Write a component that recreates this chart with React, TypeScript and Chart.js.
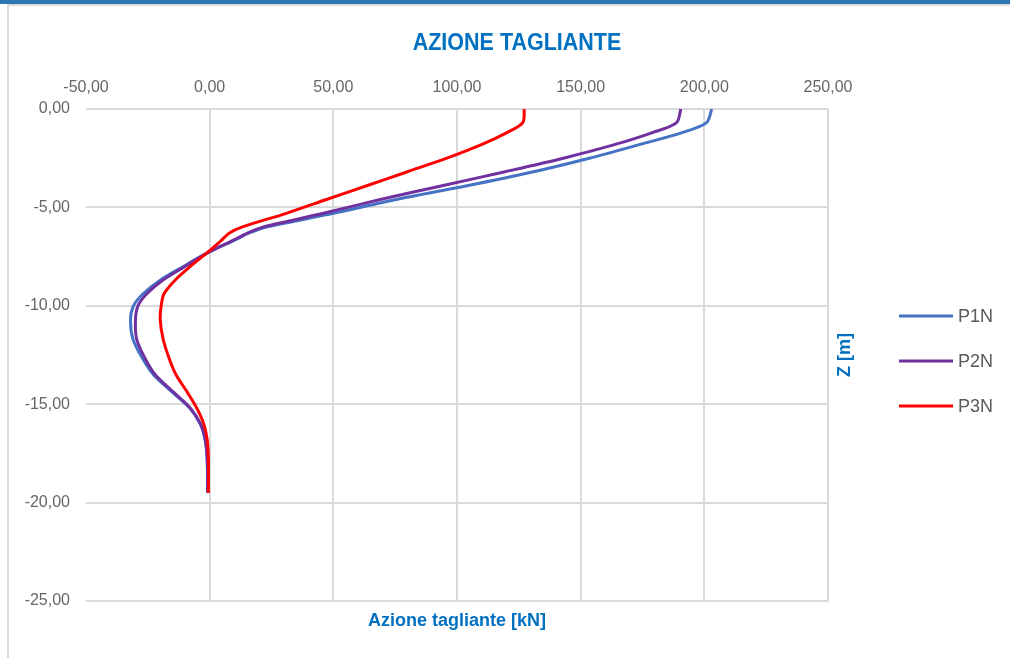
import React, { useEffect, useRef } from "react";
import { Chart, registerables } from "chart.js";

Chart.register(...registerables);

// Depth (m) shared by the three series
const Z = [0, -0.69, -1.2, -1.8, -2.5, -3.2, -3.9, -4.6, -5.3, -6.0, -6.3, -6.7, -7.25, -8.0, -8.7, -9.4, -10.0, -10.7, -11.7, -12.7, -13.5, -14.4, -15.2, -16.0, -16.8, -17.8, -19.5];
// Shear action (kN)
const P1N = [203, 200.9, 191, 174, 153.5, 130.5, 104, 75.5, 50, 23, 16, 9.5, 0, -10.6, -20, -27, -30.8, -32, -31, -27, -22.7, -15, -8, -3.8, -1.8, -1, -0.8];
const P2N = [190.5, 188.8, 179, 164, 143, 119, 94, 69, 46, 21.5, 15.5, 9, 0, -10, -19, -25.5, -29, -30, -29.5, -26, -22, -14.5, -7.8, -3.7, -1.8, -1, -0.8];
const P3N = [127.2, 126.6, 120.2, 110.1, 95.9, 79.7, 63.5, 47.2, 31, 13, 8, 4.5, -0.5, -7.8, -14, -18.5, -19.6, -20, -18.8, -16.3, -13.6, -9, -5.2, -2.4, -1, -0.5, -0.5];

const SERIES_NAMES = ["P1N", "P2N", "P3N"];
const SERIES_COLORS = ["#4472c4", "#7030a0", "#ff0000"];

const TITLE = "AZIONE TAGLIANTE";
const X_TITLE = "Azione tagliante [kN]";
const Y_TITLE = "Z [m]";

const X_MIN = -50;
const X_MAX = 250;
const X_STEP = 50;
const Y_MIN = -25;
const Y_MAX = 0;
const Y_STEP = 5;

const fmt = (v: number) => Number(v).toFixed(2).replace(".", ",");

const BLUE = "#0070c0";
const GRAY_TEXT = "#666666";
const GRID = "#d9d9d9";

const decoPlugin = {
  id: "deco",
  beforeDraw(chart: any) {
    const ctx = chart.ctx as CanvasRenderingContext2D;
    const w = chart.width;
    const h = chart.height;
    ctx.save();
    ctx.fillStyle = "#ffffff";
    ctx.fillRect(0, 0, w, h);
    ctx.fillStyle = "#2e75b6";
    ctx.fillRect(0, 0, w, 4);
    ctx.fillStyle = GRID;
    ctx.fillRect(7, 4, w - 7, 2);
    ctx.fillRect(7, 4, 2, h - 4);
    ctx.restore();
  },
  afterDraw(chart: any) {
    const ctx = chart.ctx as CanvasRenderingContext2D;
    const area = chart.chartArea;
    ctx.save();
    // Title
    ctx.fillStyle = BLUE;
    ctx.font = "bold 23px 'Liberation Sans', Arial, sans-serif";
    ctx.textAlign = "center";
    ctx.textBaseline = "alphabetic";
    ctx.save();
    ctx.translate(517, 49.5);
    ctx.scale(0.935, 1);
    ctx.fillText(TITLE, 0, 0);
    ctx.restore();

    // X axis title (below plot)
    ctx.font = "bold 18px 'Liberation Sans', Arial, sans-serif";
    ctx.fillText(X_TITLE, (area.left + area.right) / 2, 626);

    // Y axis title (right of plot, rotated)
    ctx.save();
    ctx.translate(845, (area.top + area.bottom) / 2);
    ctx.rotate(-Math.PI / 2);
    ctx.textBaseline = "middle";
    ctx.fillText(Y_TITLE, 0, 0);
    ctx.restore();

    // Legend
    const ys = [316, 361, 406];
    chart.data.datasets.forEach((ds: any, i: number) => {
      ctx.strokeStyle = ds.borderColor;
      ctx.lineWidth = 3;
      ctx.beginPath();
      ctx.moveTo(899, ys[i]);
      ctx.lineTo(953, ys[i]);
      ctx.stroke();
      ctx.fillStyle = "#595959";
      ctx.font = "18px 'Liberation Sans', Arial, sans-serif";
      ctx.textAlign = "left";
      ctx.textBaseline = "middle";
      ctx.fillText(ds.label, 958, ys[i] + 1);
    });
    ctx.restore();
  },
};

export default function App() {
  const ref = useRef<HTMLCanvasElement | null>(null);

  useEffect(() => {
    document.body.style.margin = "0";
    document.body.style.overflow = "hidden";
    const canvas = ref.current;
    if (!canvas) return;
    const seriesValues = [P1N, P2N, P3N];
    const datasets = seriesValues.map((vals, i) => ({
      label: SERIES_NAMES[i],
      data: vals.map((v, j) => ({ x: v, y: Z[j] })),
      borderColor: SERIES_COLORS[i],
      backgroundColor: SERIES_COLORS[i],
      borderWidth: 3,
      pointRadius: 0,
      showLine: true,
      fill: false,
      tension: 0.3,
      order: 2 - i,
    }));

    const tickFont = { family: "'Liberation Sans', Arial, sans-serif", size: 16 };

    const chart = new Chart(canvas, {
      type: "scatter",
      data: { datasets },
      plugins: [decoPlugin],
      options: {
        responsive: false,
        animation: false,
        devicePixelRatio: 1,
        layout: { padding: { left: 0, right: 182, top: 0, bottom: 57 } },
        plugins: {
          legend: { display: false },
          tooltip: { enabled: false },
          title: { display: false },
        },
        scales: {
          x: {
            type: "linear",
            position: "top",
            min: X_MIN,
            max: X_MAX,
            ticks: {
              stepSize: X_STEP,
              padding: 12,
              color: GRAY_TEXT,
              font: tickFont,
              maxRotation: 0,
              callback: (v: any) => fmt(v),
            },
            grid: {
              drawTicks: false,
              lineWidth: 2,
              color: (c: any) => (c.tick && c.tick.value === X_MIN ? "rgba(0,0,0,0)" : GRID),
            },
            border: { display: false },
            afterFit: (s: any) => {
              s.height = 109;
            },
          },
          y: {
            type: "linear",
            position: "left",
            min: Y_MIN,
            max: Y_MAX,
            ticks: {
              stepSize: Y_STEP,
              padding: 16,
              color: GRAY_TEXT,
              font: tickFont,
              callback: (v: any) => fmt(v),
            },
            grid: { drawTicks: false, lineWidth: 2, color: GRID },
            border: { display: false },
            afterFit: (s: any) => {
              s.width = 86;
            },
          },
        },
      } as any,
    });
    return () => chart.destroy();
  }, []);

  return (
    <div style={{ position: "absolute", left: 0, top: 0, width: 1010, height: 658 }}>
      <canvas ref={ref} width={1010} height={658} style={{ display: "block" }} />
    </div>
  );
}
